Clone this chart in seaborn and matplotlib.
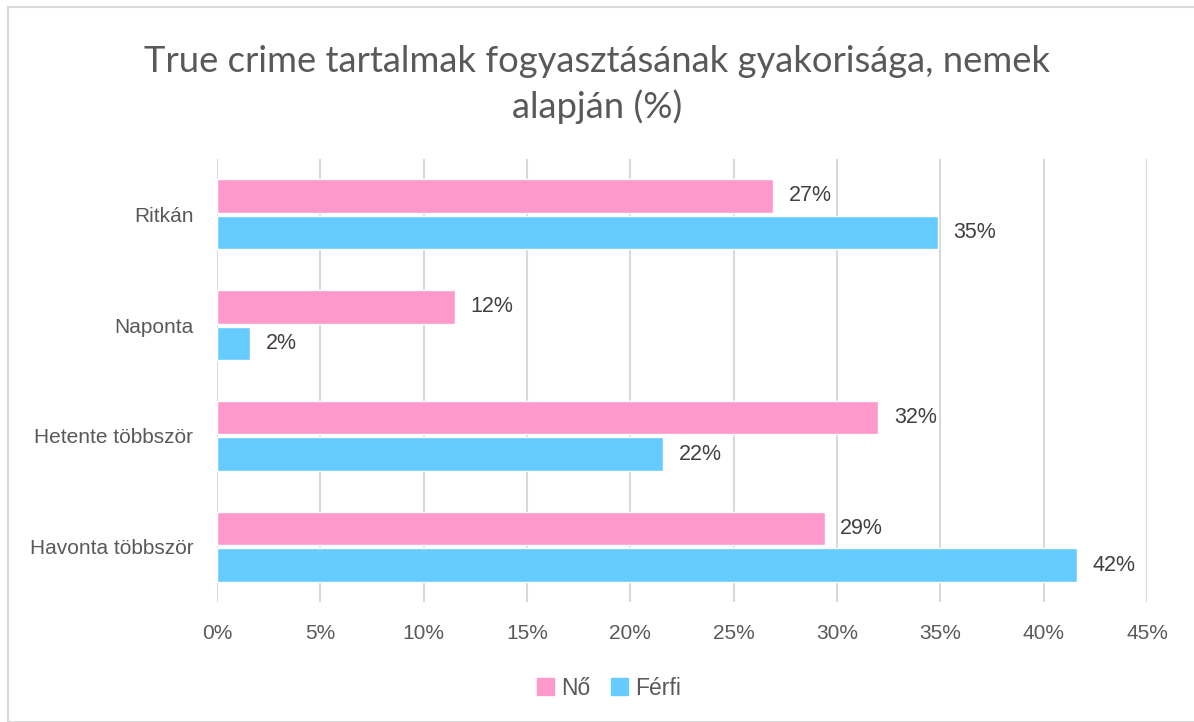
import pandas as pd
import matplotlib.pyplot as plt
import matplotlib.patches as mpatches
import seaborn as sns

categories = ["Ritkán", "Naponta", "Hetente többször", "Havonta többször"]
genders = ["Nő", "Férfi"]
no_values = [26.9, 11.5, 32.0, 29.4]
ferfi_values = [34.9, 1.6, 21.6, 41.6]
colors = ["#FF99CC", "#66CCFF"]

df = pd.DataFrame({
    "kategoria": categories * 2,
    "nem": [genders[0]] * 4 + [genders[1]] * 4,
    "ertek": no_values + ferfi_values,
})

sns.set_style("white")
plt.rcParams["font.family"] = ["Liberation Sans", "DejaVu Sans"]
text_color = "#595959"

fig = plt.figure(figsize=(11.94, 7.22), dpi=100)
ax = fig.add_axes([0.1817, 0.166, 0.7789, 0.614])

sns.barplot(data=df, y="kategoria", x="ertek", hue="nem", order=categories,
            hue_order=genders, palette=colors, orient="h", width=0.66, gap=0.08,
            saturation=1, ax=ax, legend=False)

ax.set_xlim(0, 45)
ax.set_xticks(range(0, 46, 5))
ax.set_xticklabels([f"{t}%" for t in range(0, 46, 5)])
ax.grid(axis="x", color="#D9D9D9", linewidth=1.5)
ax.set_axisbelow(True)
for s in ax.spines.values():
    s.set_visible(False)
ax.set_xlabel("")
ax.set_ylabel("")
ax.tick_params(axis="both", length=0, labelsize=15, labelcolor=text_color)
ax.tick_params(axis="x", pad=16)
ax.tick_params(axis="y", pad=17)

# value labels, rounded to whole percent
for bar in ax.patches:
    w = bar.get_width()
    if w <= 0:
        continue
    ax.text(w + 0.75, bar.get_y() + bar.get_height() / 2, f"{round(w):.0f}%",
            va="center", ha="left", fontsize=15.5, color="#404040")

fig.text(0.5, 0.883, "True crime tartalmak fogyasztásának gyakorisága, nemek\nalapján (%)",
         ha="center", va="center", fontsize=26.2, color=text_color,
         family=["Lato", "DejaVu Sans"], linespacing=1.4)

handles = [mpatches.Patch(color=c, label=g) for c, g in zip(colors, genders)]
fig.legend(handles=handles, loc="center", bbox_to_anchor=(0.51, 0.047), ncol=2,
           frameon=False, fontsize=16.5, labelcolor=text_color, handlelength=0.75,
           handleheight=0.75, handletextpad=0.3, columnspacing=0.9)

fig.patches.append(mpatches.Rectangle((0.007, 0.0), 1.1, 0.99, transform=fig.transFigure,
                                      fill=False, edgecolor="#D9D9D9", linewidth=1.5))

fig.savefig("out.png", dpi=100)
